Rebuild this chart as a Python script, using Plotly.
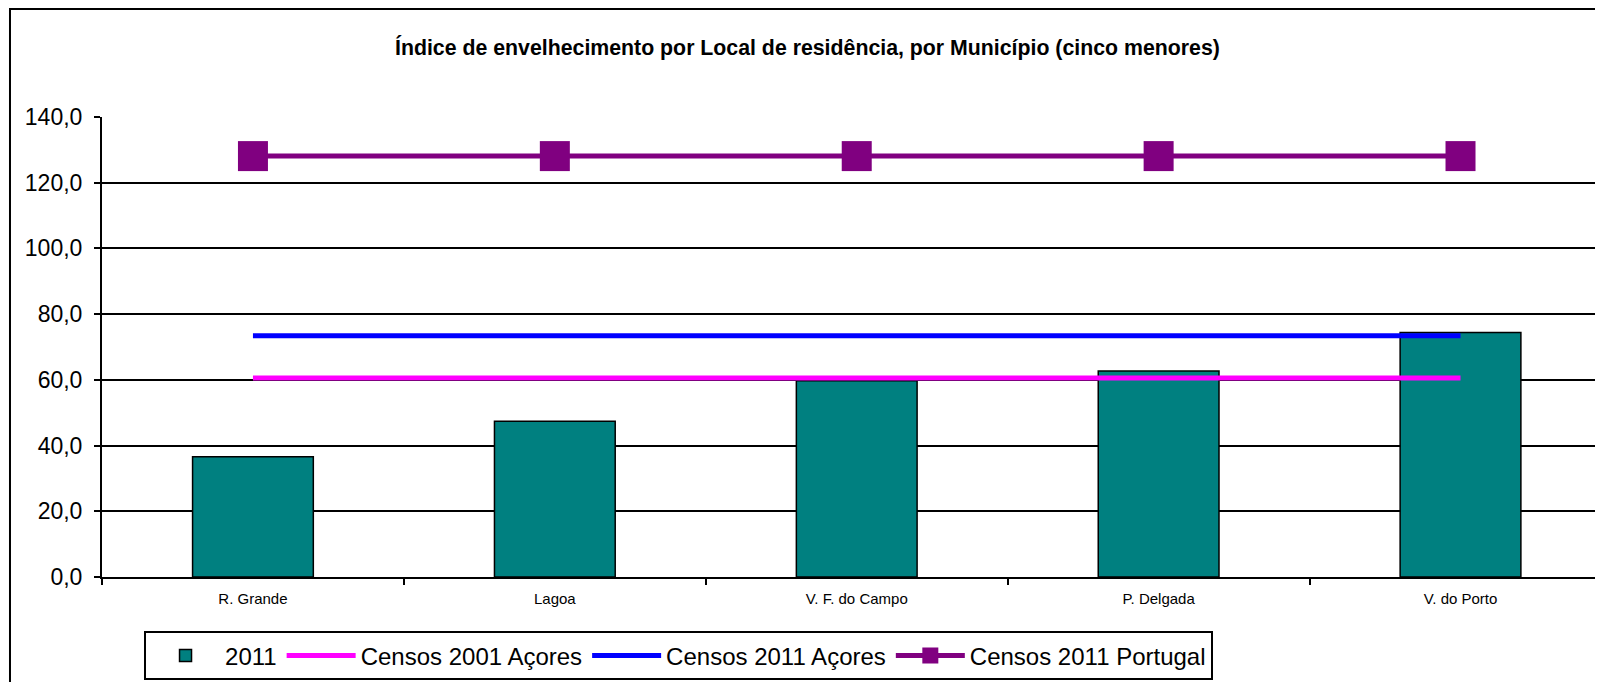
import plotly.graph_objects as go

# ---------------------------------------------------------------------------
# Data
# ---------------------------------------------------------------------------
municipios = ["R. Grande", "Lagoa", "V. F. do Campo", "P. Delgada", "V. do Porto"]
indice_2011 = [36.6, 47.4, 59.7, 62.7, 74.4]
censos_2001_acores = [60.6, 60.6, 60.6, 60.6, 60.6]
censos_2011_acores = [73.4, 73.4, 73.4, 73.4, 73.4]
censos_2011_portugal = [128.1, 128.1, 128.1, 128.1, 128.1]
y_ticks = [0, 20, 40, 60, 80, 100, 120, 140]

FONT = "Liberation Sans, Arial, sans-serif"

fig = go.Figure()

fig.add_trace(go.Bar(
    x=municipios, y=indice_2011, name="2011",
    width=0.4,
    marker=dict(color="#008080", line=dict(color="black", width=1.5)),
))
fig.add_trace(go.Scatter(
    x=municipios, y=censos_2001_acores, name="Censos 2001 Açores",
    mode="lines", line=dict(color="#FF00FF", width=5),
))
fig.add_trace(go.Scatter(
    x=municipios, y=censos_2011_acores, name="Censos 2011 Açores",
    mode="lines", line=dict(color="#0000FF", width=5),
))
fig.add_trace(go.Scatter(
    x=municipios, y=censos_2011_portugal, name="Censos 2011 Portugal",
    mode="lines+markers", line=dict(color="#800080", width=5),
    marker=dict(symbol="square", size=30, color="#800080"),
))

# page body adds an 8px offset, so the figure is sized to end at the window edge
fig.update_layout(
    width=1595, height=674,
    margin=dict(l=94, r=0, t=109, b=105, autoexpand=False),
    paper_bgcolor="white", plot_bgcolor="white",
    separators=",.",
    font=dict(family=FONT, color="black"),
    showlegend=True,
    legend=dict(
        orientation="h",
        x=0.028, xanchor="left", y=-0.118, yanchor="top",
        bordercolor="black", borderwidth=2,
        font=dict(size=24, family=FONT),
        itemwidth=69,
        traceorder="normal",
    ),
)

fig.update_xaxes(
    range=[-0.5, 4.472],
    showline=True, linecolor="black", linewidth=2,
    ticks="outside", tickson="boundaries", ticklen=6, tickcolor="black", tickwidth=2,
    ticklabelstandoff=7,
    tickfont=dict(size=15, family=FONT),
    showgrid=False,
)
fig.update_yaxes(
    range=[0, 140], tickvals=y_ticks, tickformat=".1f",
    showline=True, linecolor="black", linewidth=2,
    ticks="outside", ticklen=6, tickcolor="black", tickwidth=2,
    ticklabelstandoff=7,
    tickfont=dict(size=23, family=FONT),
    showgrid=True, gridcolor="black", gridwidth=1.5,
    zeroline=False,
)

fig.add_annotation(
    text="<b>Índice de envelhecimento por Local de residência, por Município (cinco menores)</b>",
    xref="paper", yref="paper", x=0.47, y=1.152,
    xanchor="center", yanchor="middle", showarrow=False,
    font=dict(size=21.3, family=FONT, color="black"),
)

# outer chart border
fig.add_shape(
    type="rect", xref="paper", yref="paper",
    x0=-0.0613, x1=1.02, y0=-0.3, y1=1.235,
    line=dict(color="black", width=2),
)

fig.write_html("out.html")
